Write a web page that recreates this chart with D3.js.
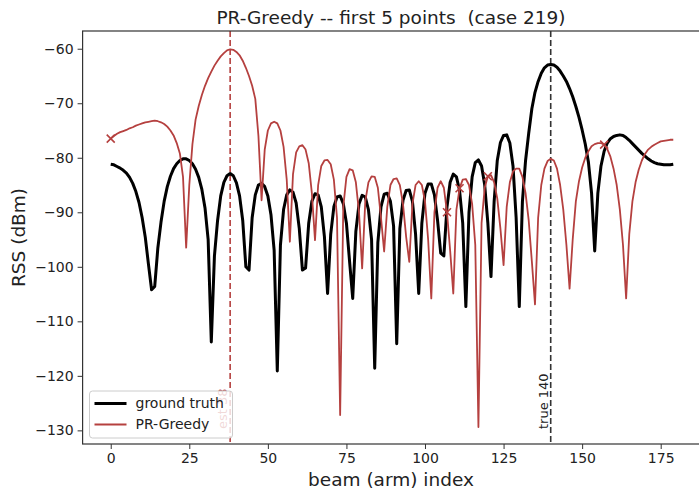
<!DOCTYPE html>
<html>
<head>
<meta charset="utf-8">
<script src="https://cdn.jsdelivr.net/npm/d3@7"></script>
<style>
  body { margin: 0; background: #fff; }
  svg { font-family: "DejaVu Sans", sans-serif; display: block; }
</style>
</head>
<body>
<svg width="699" height="491"></svg>
<script>
// RSS per beam index
var groundTruth = [
  -81.2, -81.3, -81.6, -81.9, -82.3, -82.8, -83.6, -84.7, -86.2, -88.2,
  -91.0, -94.6, -99.5, -104.2, -103.6, -96.5, -91.8, -88.0, -85.3, -83.4,
  -82.0, -81.1, -80.5, -80.2, -80.2, -80.5, -81.1, -82.1, -83.6, -85.8,
  -89.2, -95.0, -113.8, -98.0, -91.5, -87.0, -84.5, -83.3, -82.9, -83.3,
  -84.6, -87.0, -91.5, -100.0, -100.6, -91.0, -86.8, -85.0, -84.7, -85.3,
  -87.0, -90.5, -97.0, -119.1, -96.0, -89.5, -86.8, -85.9, -86.3, -88.3,
  -93.0, -100.6, -100.2, -92.0, -88.0, -86.6, -86.8, -89.0, -94.5, -104.9,
  -94.0, -89.0, -87.2, -87.0, -88.4, -92.0, -99.0, -105.8, -93.5, -88.5,
  -86.9, -87.2, -89.5, -95.0, -118.6, -95.5, -89.0, -86.7, -86.5, -88.0,
  -92.5, -114.1, -93.0, -87.8, -86.0, -85.9, -88.0, -94.0, -104.9, -92.0,
  -86.5, -84.8, -84.8, -86.8, -91.5, -97.5, -98.0, -89.0, -84.5, -83.0,
  -83.5, -86.0, -92.0, -107.3, -90.0, -83.5, -80.9, -80.4, -81.5, -85.0,
  -92.0, -101.8, -88.0, -80.5, -77.2, -75.9, -75.8, -77.3, -81.5, -91.0,
  -107.3, -88.0, -80.5, -75.5, -71.0, -68.0, -66.0, -64.5, -63.5, -63.0,
  -62.9, -63.0, -63.4, -64.1, -65.0, -66.0, -67.3, -68.8, -70.6, -72.6,
  -74.9, -77.5, -80.8, -86.5, -97.1, -86.5, -81.5, -78.8, -77.3, -76.5,
  -76.1, -75.9, -75.8, -75.9, -76.3, -76.8, -77.4, -78.0, -78.6, -79.2,
  -79.7, -80.2, -80.6, -80.9, -81.1, -81.2, -81.3, -81.3, -81.3, -81.2
];

var prGreedy = [
  -76.5, -76.0, -75.6, -75.3, -75.1, -74.9, -74.6, -74.4, -74.1, -73.9,
  -73.7, -73.5, -73.4, -73.3, -73.2, -73.3, -73.5, -73.8, -74.3, -75.0,
  -75.9, -77.3, -79.2, -83.5, -96.5, -85.0, -77.5, -73.0, -70.5, -68.5,
  -66.8, -65.4, -64.2, -63.1, -62.2, -61.4, -60.8, -60.3, -60.1, -60.2,
  -60.6, -61.2, -62.2, -63.5, -65.0, -66.8, -69.2, -76.0, -87.8, -78.5,
  -75.0, -73.7, -73.4, -73.7, -75.0, -78.0, -84.0, -95.4, -83.0, -79.0,
  -77.9, -77.7, -78.5, -81.0, -86.5, -95.1, -85.0, -81.5, -80.5, -80.4,
  -81.2, -84.0, -91.0, -127.2, -89.0, -83.5, -82.1, -82.3, -84.5, -90.0,
  -100.3, -88.0, -84.5, -83.4, -83.5, -85.5, -91.0, -97.2, -89.0, -85.0,
  -83.9, -83.8, -85.0, -88.5, -94.5, -99.1, -88.5, -85.0, -84.3, -85.0,
  -88.0, -95.0, -105.8, -90.0, -85.5, -84.3, -85.5, -90.0, -97.0, -104.9,
  -89.5, -85.6, -84.0, -83.9, -85.0, -88.5, -96.0, -129.4, -92.0, -85.5,
  -83.4, -83.2, -84.5, -87.5, -93.0, -99.7, -89.0, -84.5, -82.5, -82.0,
  -82.0, -83.5, -86.5, -91.5, -99.0, -106.9, -91.0, -85.0, -82.0, -80.6,
  -80.2, -80.5, -82.0, -85.0, -89.5, -96.0, -104.0, -95.0, -88.0, -84.3,
  -81.8, -80.0, -78.8, -77.9, -77.5, -77.3, -77.3, -77.6, -78.4, -79.8,
  -82.0, -85.0, -89.5, -96.0, -105.8, -94.0, -88.0, -84.5, -82.2, -80.5,
  -79.3, -78.5, -78.0, -77.6, -77.3, -77.0, -76.9, -76.8, -76.7, -76.7
];

var probedBeams = [0, 107, 111, 120, 157];
var estBeam = 38, trueBeam = 140;
var xTicks = [0, 25, 50, 75, 100, 125, 150, 175];
var yTicks = [-60, -70, -80, -90, -100, -110, -120, -130];

var red = "#b5403f";

var svg = d3.select("svg");
var x = d3.scaleLinear().domain([-8.95, 187.95]).range([82.6, 701.4]);
var y = d3.scaleLinear().domain([-132.5, -56.75]).range([444, 31]);

var fmt = function(d) { return d < 0 ? "\u2212" + Math.abs(d) : "" + d; };

var line = d3.line()
    .x(function(d, i) { return x(i); })
    .y(function(d) { return y(d); });

var plot = svg.append("g");

// vertical markers
plot.append("line")
    .attr("x1", x(estBeam)).attr("x2", x(estBeam))
    .attr("y1", 31).attr("y2", 444)
    .attr("stroke", red).attr("stroke-width", 1.6)
    .attr("stroke-dasharray", "6,3");
plot.append("line")
    .attr("x1", x(trueBeam)).attr("x2", x(trueBeam))
    .attr("y1", 31).attr("y2", 444)
    .attr("stroke", "#333").attr("stroke-width", 1.6)
    .attr("stroke-dasharray", "6,3");

plot.append("text")
    .attr("transform", "translate(" + (x(estBeam) - 7.5) + "," + 429 + ") rotate(-90)")
    .attr("dy", "0.35em")
    .attr("font-size", 13)
    .attr("fill", red)
    .text("est " + estBeam);
plot.append("text")
    .attr("transform", "translate(" + (x(trueBeam) - 7.5) + "," + 429 + ") rotate(-90)")
    .attr("dy", "0.35em")
    .attr("font-size", 13)
    .attr("fill", "#222")
    .text("true " + trueBeam);

plot.append("path")
    .datum(groundTruth)
    .attr("d", line)
    .attr("fill", "none")
    .attr("stroke", "#000")
    .attr("stroke-width", 3)
    .attr("stroke-linejoin", "round");

plot.append("path")
    .datum(prGreedy)
    .attr("d", line)
    .attr("fill", "none")
    .attr("stroke", red)
    .attr("stroke-width", 1.8)
    .attr("stroke-linejoin", "round");

// probed points as x markers
var s = 4;
plot.selectAll("path.probe")
    .data(probedBeams)
  .enter().append("path")
    .attr("class", "probe")
    .attr("d", function(d) {
      var cx = x(d), cy = y(prGreedy[d]);
      return "M" + (cx - s) + "," + (cy - s) + "L" + (cx + s) + "," + (cy + s)
           + "M" + (cx - s) + "," + (cy + s) + "L" + (cx + s) + "," + (cy - s);
    })
    .attr("stroke", red)
    .attr("stroke-width", 1.6);

// axes
var xAxis = svg.append("g")
    .attr("transform", "translate(0,444)")
    .call(d3.axisBottom(x).tickValues(xTicks).tickSize(5).tickPadding(4));
var yAxis = svg.append("g")
    .attr("transform", "translate(82.6,0)")
    .call(d3.axisLeft(y).tickValues(yTicks).tickFormat(fmt).tickSize(5).tickPadding(4));

[xAxis, yAxis].forEach(function(a) {
  a.select(".domain").remove();
  a.selectAll(".tick line").attr("stroke", "#333").attr("stroke-width", 1);
  a.selectAll(".tick text").attr("font-size", 14).attr("fill", "#222")
    .attr("font-family", "DejaVu Sans, sans-serif");
});

// spines (right one falls outside the picture)
svg.append("rect")
    .attr("x", 82.6).attr("y", 31)
    .attr("width", 701.4 - 82.6).attr("height", 444 - 31)
    .attr("fill", "none")
    .attr("stroke", "#333")
    .attr("stroke-width", 1.2);

// legend
var leg = svg.append("g").attr("transform", "translate(89.5,391)");
leg.append("rect")
    .attr("width", 143).attr("height", 47)
    .attr("rx", 3)
    .attr("fill", "#fff").attr("fill-opacity", 0.8)
    .attr("stroke", "#ccc");
var entries = [
  { name: "ground truth", color: "#000", w: 3 },
  { name: "PR-Greedy", color: red, w: 1.8 }
];
entries.forEach(function(e, i) {
  var yy = 12.5 + i * 21;
  leg.append("line")
      .attr("x1", 5).attr("x2", 37)
      .attr("y1", yy).attr("y2", yy)
      .attr("stroke", e.color).attr("stroke-width", e.w);
  leg.append("text")
      .attr("x", 46).attr("y", yy)
      .attr("dy", "0.35em")
      .attr("font-size", 14)
      .attr("fill", "#222")
      .text(e.name);
});

// title and labels
svg.append("text")
    .attr("x", 391).attr("y", 24)
    .attr("text-anchor", "middle")
    .attr("font-size", 18.5)
    .attr("fill", "#222")
    .style("white-space", "pre")
    .text("PR-Greedy -- first 5 points  (case 219)");

svg.append("text")
    .attr("x", 391).attr("y", 486)
    .attr("text-anchor", "middle")
    .attr("font-size", 18.5)
    .attr("fill", "#222")
    .text("beam (arm) index");

svg.append("text")
    .attr("transform", "translate(25,237.5) rotate(-90)")
    .attr("text-anchor", "middle")
    .attr("font-size", 18.5)
    .attr("fill", "#222")
    .text("RSS (dBm)");
</script>
</body>
</html>
